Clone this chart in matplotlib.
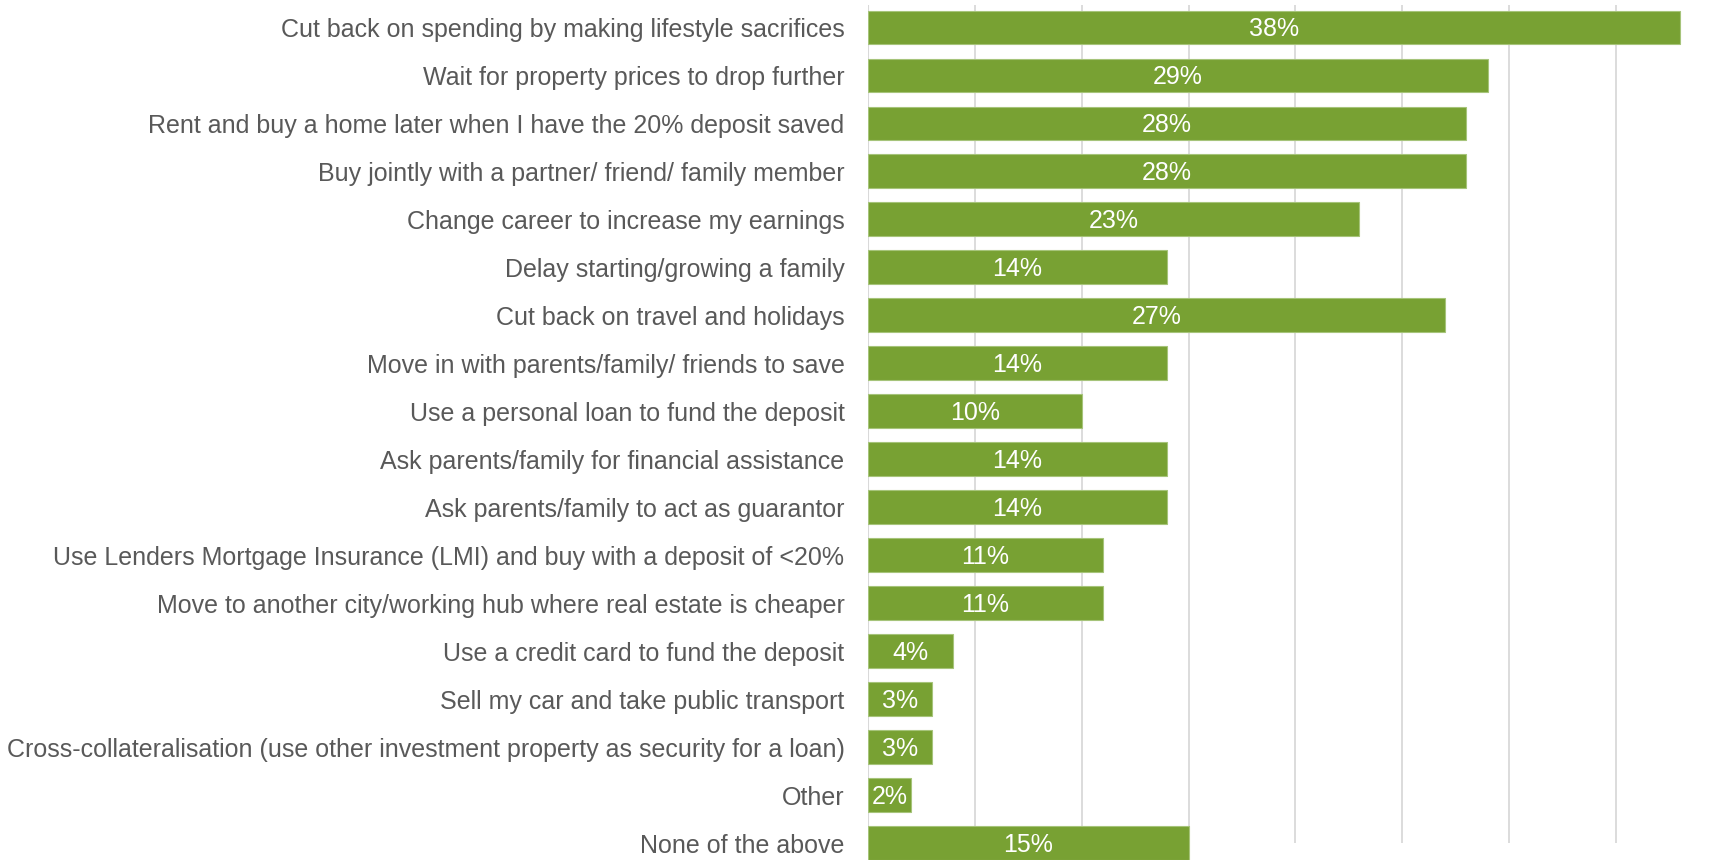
import matplotlib.pyplot as plt

# Survey answers, top to bottom
categories = [
    "Cut back on spending by making lifestyle sacrifices",
    "Wait for property prices to drop further",
    "Rent and buy a home later when I have the 20% deposit saved",
    "Buy jointly with a partner/ friend/ family member",
    "Change career to increase my earnings",
    "Delay starting/growing a family",
    "Cut back on travel and holidays",
    "Move in with parents/family/ friends to save",
    "Use a personal loan to fund the deposit",
    "Ask parents/family for financial assistance",
    "Ask parents/family to act as guarantor",
    "Use Lenders Mortgage Insurance (LMI) and buy with a deposit of <20%",
    "Move to another city/working hub where real estate is cheaper",
    "Use a credit card to fund the deposit",
    "Sell my car and take public transport",
    "Cross-collateralisation (use other investment property as security for a loan)",
    "Other",
    "None of the above",
]
shares = [38, 29, 28, 28, 23, 14, 27, 14, 10, 14, 14, 11, 11, 4, 3, 3, 2, 15]

BAR_COLOR = "#78a133"
GRID_COLOR = "#d9d9d9"
TEXT_COLOR = "#595959"

plt.rcParams["font.family"] = ["Liberation Sans", "DejaVu Sans"]

fig = plt.figure(figsize=(17.12, 8.6), dpi=100)
ax = fig.add_axes([868 / 1712, 0.0, 1 - 868 / 1712, 1 - 5 / 860])

ypos = list(range(len(categories)))
bars = ax.barh(ypos, shares, height=0.7, color=BAR_COLOR,
               edgecolor="#a6c47a", linewidth=0.8, zorder=2)

for bar, val in zip(bars, shares):
    ax.text(bar.get_width() / 2, bar.get_y() + bar.get_height() / 2 + 0.03,
            f"{val}%", ha="center", va="center", color="white",
            fontsize=18, zorder=3)

ax.set_xlim(0, 39.5)
ax.set_ylim(len(categories) - 1 + 0.35, -0.465)

# vertical gridlines every 5%
for gx in range(5, 40, 5):
    ax.vlines(gx, -0.465, len(categories) - 1, color=GRID_COLOR,
              linewidth=1.3, zorder=1)
ax.axvline(0, color=GRID_COLOR, linewidth=1.5, zorder=1)

ax.set_yticks(ypos)
ax.set_yticklabels(categories, fontsize=18, color=TEXT_COLOR)
ax.tick_params(axis="y", length=0, pad=17)
ax.set_xticks([])
for side in ax.spines.values():
    side.set_visible(False)

fig.savefig("out.png", dpi=100)
